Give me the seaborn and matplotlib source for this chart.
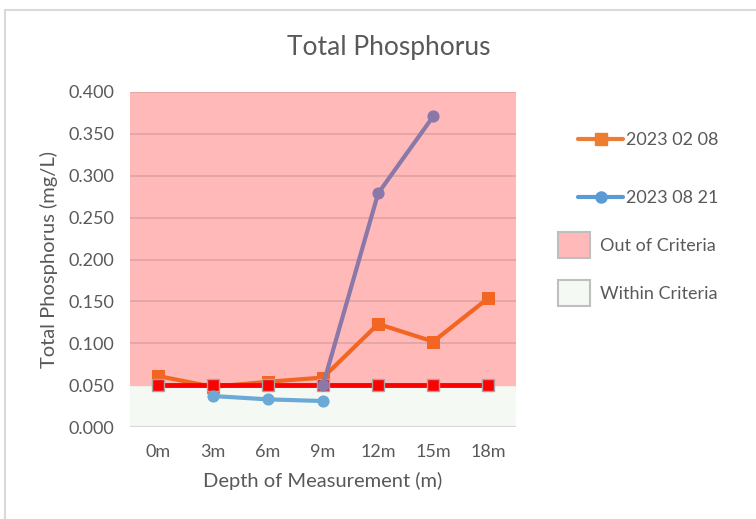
import numpy as np
import pandas as pd
import matplotlib.pyplot as plt
import seaborn as sns
from matplotlib.lines import Line2D
from matplotlib.patches import Patch, Rectangle

# data
depths = ['0m', '3m', '6m', '9m', '12m', '15m', '18m']
feb_2023 = [0.061, 0.048, 0.054, 0.059, 0.123, 0.102, 0.154]
aug_2023 = [np.nan, 0.037, 0.033, 0.031, np.nan, np.nan, np.nan]
aug_2023_deep = [np.nan, np.nan, np.nan, 0.050, 0.279, 0.371, np.nan]
criteria = [0.05] * 7
criteria_limit = 0.05
y_max = 0.4

sns.set_style('white')
plt.rcParams['font.family'] = ['Lato', 'DejaVu Sans']
text_col = '#595959'

df = pd.DataFrame({'x': range(len(depths)), 'feb': feb_2023, 'aug': aug_2023,
                   'deep': aug_2023_deep, 'crit': criteria})

fig = plt.figure(figsize=(7.56, 5.19), dpi=100)
ax = fig.add_axes([130 / 756, 1 - 427 / 519, 386 / 756, 335 / 519])

# outer chart border (excel style)
fig.patches.append(Rectangle((5 / 756, -0.1), 1.2, 1 - 10 / 519 + 0.1, transform=fig.transFigure,
                             fill=False, edgecolor='#D9D9D9', linewidth=1.5))

# criteria bands
ax.axhspan(0, criteria_limit, color='#F5F9F3', zorder=0)
ax.axhspan(criteria_limit, y_max, color='#FFB9B9', zorder=0)
for t in np.arange(0.1, y_max + 0.001, 0.05):
    ax.axhline(t, color='#E0A3A3', linewidth=1.2, zorder=1)
ax.axhline(0, color='#D9D9D9', linewidth=1.5, zorder=1)

sns.lineplot(data=df, x='x', y='feb', ax=ax, color='#F26522', linewidth=3,
             marker='s', markersize=8, markeredgecolor='#F26522', zorder=3)
sns.lineplot(data=df, x='x', y='crit', ax=ax, color='#FF0000', linewidth=3.5,
             marker='s', markersize=8, markeredgecolor='#A6A6A6', markeredgewidth=1, zorder=4)
sns.lineplot(data=df, x='x', y='aug', ax=ax, color='#6BAAD6', linewidth=3,
             marker='o', markersize=8, markeredgecolor='#6BAAD6', zorder=5)
sns.lineplot(data=df, x='x', y='deep', ax=ax, color='#8A78A8', linewidth=3,
             marker='o', markersize=8, markeredgecolor='#8A78A8', zorder=6)

ax.set_xlim(-0.5, len(depths) - 0.5)
ax.set_ylim(0, y_max)
ax.set_xticks(range(len(depths)))
ax.set_xticklabels(depths)
ax.set_yticks(np.arange(0, y_max + 0.001, 0.05))
ax.set_yticklabels(['%.3f' % v for v in np.arange(0, y_max + 0.001, 0.05)])
ax.tick_params(axis='both', length=0, labelsize=13, labelcolor=text_col)
ax.tick_params(axis='x', pad=12)
ax.tick_params(axis='y', pad=11)
for s in ax.spines.values():
    s.set_visible(False)
ax.set_xlabel('Depth of Measurement (m)', fontsize=14.5, color=text_col, labelpad=9)
ax.set_ylabel('Total Phosphorus (mg/L)', fontsize=14.5, color=text_col, labelpad=8)

fig.text(389 / 756, 1 - 47 / 519, 'Total Phosphorus', ha='center', va='center',
         fontsize=19, color=text_col)

# legend: line entries and band entries are laid out differently
line_handles = [
    Line2D([], [], color='#ED7D31', linewidth=3, marker='s', markersize=8),
    Line2D([], [], color='#5B9BD5', linewidth=3, marker='o', markersize=8),
]
fig.legend(line_handles, ['2023 02 08', '2023 08 21'], loc='upper left',
           bbox_to_anchor=(578 / 756, 1 - 132 / 519), frameon=False, fontsize=13,
           labelcolor=text_col, handlelength=2.5, handletextpad=0.15,
           labelspacing=2.35, borderpad=0, borderaxespad=0)
band_handles = [
    Patch(facecolor='#FFB9B9', edgecolor='#BFBFBF', linewidth=1.5),
    Patch(facecolor='#F5F9F3', edgecolor='#BFBFBF', linewidth=1.5),
]
fig.legend(band_handles, ['Out of Criteria', 'Within Criteria'], loc='upper left',
           bbox_to_anchor=(558 / 756, 1 - 232 / 519), frameon=False, fontsize=13,
           labelcolor=text_col, handlelength=1.75, handleheight=1.8, handletextpad=0.6,
           labelspacing=1.25, borderpad=0, borderaxespad=0)

fig.savefig('out.png', dpi=100)
